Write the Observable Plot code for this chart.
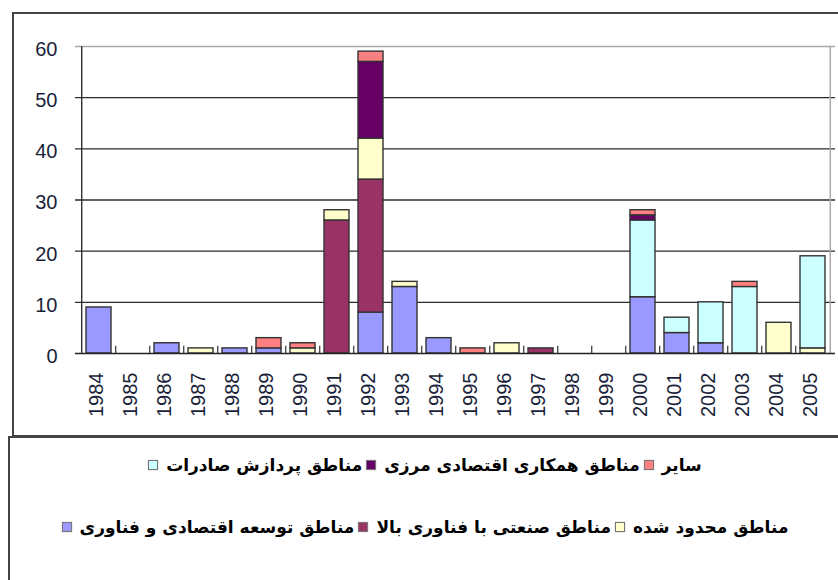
<!DOCTYPE html>
<html>
<head>
<meta charset="utf-8">
<script src="https://cdn.jsdelivr.net/npm/d3@7"></script>
<script src="https://cdn.jsdelivr.net/npm/@observablehq/plot@0.6"></script>
<style>
  html, body { margin: 0; padding: 0; background: #fff; }
  #wrap { position: relative; width: 838px; height: 580px; overflow: hidden; }
  #chart { position: absolute; left: 0; top: 0; }
  #box1 { position: absolute; left: 12px; top: 12px; width: 840px; height: 425px; box-sizing: border-box;
          border-left: 2px solid #444; border-top: 2px solid #444; border-bottom: 2px solid #444; pointer-events: none; }
  #legend { position: absolute; left: 8px; top: 436px; width: 840px; height: 150px; box-sizing: border-box;
            border-left: 2px solid #444; border-top: 2px solid #444; }
  .row { position: absolute; left: 0; width: 830px; display: flex; justify-content: center; align-items: center;
         direction: ltr; font-family: "DejaVu Sans", sans-serif; font-weight: bold; font-size: 17px; color: #000; }
  .item { display: flex; align-items: center; }
  .sw { display: inline-block; width: 8px; height: 8px; border: 1px solid #777; box-shadow: 0 0 1px #999; }
  .txt { direction: rtl; unicode-bidi: isolate; white-space: nowrap; }
</style>
</head>
<body>
<div id="wrap">
  <div id="chart"></div>
  <div id="box1"></div>
  <div id="legend"></div>
</div>
<script>
// ---- data ----
const years = ["1984","1985","1986","1987","1988","1989","1990","1991","1992","1993","1994",
               "1995","1996","1997","1998","1999","2000","2001","2002","2003","2004","2005"];

const seriesNames = [
  "مناطق توسعه اقتصادی و فناوری",
  "مناطق صنعتی با فناوری بالا",
  "مناطق محدود شده",
  "مناطق پردازش صادرات",
  "مناطق همکاری اقتصادی مرزی",
  "سایر"
];
const seriesColors = ["#9999FF", "#993366", "#FFFFCC", "#CCFFFF", "#660066", "#FF8080"];

const etdz      = [9,0,2,0,1,1,0,0,8,13,3,0,0,0,0,0,11,4,2,0,0,0];
const highTech  = [0,0,0,0,0,0,0,26,26,0,0,0,0,1,0,0,0,0,0,0,0,0];
const restricted= [0,0,0,1,0,0,1,2,8,1,0,0,2,0,0,0,0,0,0,0,6,1];
const epz       = [0,0,0,0,0,0,0,0,0,0,0,0,0,0,0,0,15,3,8,13,0,18];
const border    = [0,0,0,0,0,0,0,0,15,0,0,0,0,0,0,0,1,0,0,0,0,0];
const other     = [0,0,0,0,0,2,1,0,2,0,0,1,0,0,0,0,1,0,0,1,0,0];

const yTicks = [0,10,20,30,40,50,60];
const gridVals = [10,20,30,40,50];

// legend rows (left-to-right visual order)
const legendRow1 = [3, 4, 5];
const legendRow2 = [0, 1, 2];

// ---- build table ----
const seriesValues = [etdz, highTech, restricted, epz, border, other];
const rows = [];
seriesValues.forEach((vals, s) => {
  vals.forEach((v, i) => { if (v > 0) rows.push({year: years[i], series: seriesNames[s], value: v}); });
});

const W = 838, H = 437, mL = 75, mR = 3, mT = 46, mB = 84;
const step = (W - mL - mR) / years.length;

const chart = Plot.plot({
  width: W, height: H,
  marginLeft: mL, marginRight: mR, marginTop: mT, marginBottom: mB,
  style: {background: "transparent", fontFamily: "Arial, 'Liberation Sans', sans-serif", fontSize: "20px", color: "#1a1f3a"},
  x: {domain: years, paddingInner: 0.275, paddingOuter: 0.1375, align: 0.5, label: null},
  y: {domain: [0, 60], label: null},
  color: {domain: seriesNames, range: seriesColors},
  marks: [
    Plot.ruleY(gridVals, {stroke: "#2a2a2a", strokeWidth: 1.3}),
    Plot.ruleY([60], {stroke: "#aaaaaa", strokeWidth: 1.5}),
    Plot.ruleX([years[years.length - 1]], {dx: step / 2, stroke: "#aaaaaa", strokeWidth: 1.5}),
    Plot.barY(rows, Plot.stackY({x: "year", y: "value", fill: "series", order: seriesNames,
      stroke: "#333", strokeWidth: 1.4})),
    Plot.ruleX([years[0]], {dx: -step / 2, stroke: "#222", strokeWidth: 1.3}),
    Plot.ruleY([0], {stroke: "#222", strokeWidth: 1.5}),
    Plot.ruleX(years.slice(1), {dx: -step / 2, y1: 0, y2: 1.4, stroke: "#333", strokeWidth: 1.2}),
    Plot.axisY({ticks: yTicks, tickSize: 0, tickPadding: 18, dy: 3, fontSize: 20, label: null}),
    Plot.axisX({tickRotate: -90, tickSize: 0, tickPadding: 19, dx: -2, fontSize: 20, label: null})
  ]
});
document.getElementById("chart").appendChild(chart);

// ---- legend ----
const legend = document.getElementById("legend");
function makeRow(idx, top) {
  const r = document.createElement("div");
  r.className = "row";
  r.style.top = top + "px";
  idx.forEach((k, j) => {
    const it = document.createElement("div");
    it.className = "item";
    if (j > 0) it.style.marginLeft = "4px";
    const sw = document.createElement("span");
    sw.className = "sw";
    sw.style.background = seriesColors[k];
    sw.style.marginRight = "8px";
    const t = document.createElement("span");
    t.className = "txt";
    t.textContent = seriesNames[k];
    it.appendChild(sw); it.appendChild(t);
    r.appendChild(it);
  });
  legend.appendChild(r);
}
makeRow(legendRow1, 17);
makeRow(legendRow2, 79);
</script>
</body>
</html>
